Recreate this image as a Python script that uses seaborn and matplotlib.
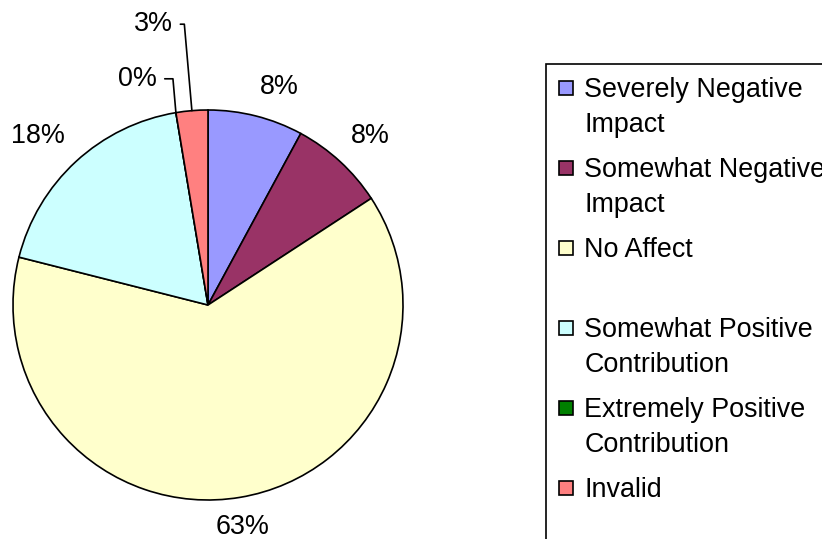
"""
Pie chart of survey answers (impact), Excel-like style, with a legend on the right.
"""
import numpy as np
import matplotlib
matplotlib.use("Agg")
import matplotlib.pyplot as plt
from matplotlib.patches import Patch, Rectangle
from matplotlib.legend_handler import HandlerPatch
import seaborn as sns

# data
categories = [
    "Severely Negative\nImpact",
    "Somewhat Negative\nImpact",
    "No Affect\n ",
    "Somewhat Positive\nContribution",
    "Extremely Positive\nContribution",
    "Invalid\n ",
]
counts = [3, 3, 24, 7, 0, 1]
colors = ["#9999FF", "#993366", "#FFFFCC", "#CCFFFF", "#008000", "#FF8080"]

FONT_PT = 19.4
LINESPACING = 1.43
LABEL_R = 1.085
# slices too small for a direct label get a leader line
LEADER_TEXT = {4: (-0.26, 1.16), 5: (-0.18, 1.44)}

sns.set_theme(style="white")
plt.rcParams["font.family"] = ["Liberation Sans", "DejaVu Sans"]
plt.rcParams["text.color"] = "black"

fig = plt.figure(figsize=(8.22, 5.39), dpi=100)
ax = fig.add_axes([13 / 822, 39 / 539, 390 / 822, 390 / 539])

wedges, _ = ax.pie(
    counts,
    colors=colors,
    startangle=90,
    counterclock=False,
    wedgeprops=dict(edgecolor="black", linewidth=1.2),
)
ax.set_xlim(-1, 1)
ax.set_ylim(-1, 1)
ax.set_aspect("equal")
ax.axis("off")

# percentage labels, anchored by the corner nearest to the pie (like Excel)
total = sum(counts)
cum = np.cumsum(counts)
for i, c in enumerate(counts):
    mid = (cum[i] - c / 2) / total
    theta = np.deg2rad(90 - 360 * mid)
    cx, cy = np.cos(theta), np.sin(theta)
    label = f"{100 * c / total:.0f}%"
    if i in LEADER_TEXT:
        ax.annotate(
            label, xy=(cx, cy), xytext=LEADER_TEXT[i], ha="right", va="center",
            fontsize=FONT_PT, color="black", annotation_clip=False,
            arrowprops=dict(arrowstyle="-", color="black", lw=1.2, relpos=(1, 0.5),
                            shrinkA=3, shrinkB=0,
                            connectionstyle="angle,angleA=0,angleB=95,rad=0"),
        )
    else:
        ha = "left" if cx > 0.2 else ("right" if cx < -0.2 else "center")
        va = "bottom" if cy > 0.2 else ("top" if cy < -0.2 else "center")
        ax.text(LABEL_R * cx, LABEL_R * cy, label, ha=ha, va=va,
                fontsize=FONT_PT, color="black", clip_on=False)


# legend: marker sits next to the first line of each two-line label
def first_line_patch(legend, orig_handle, xdescent, ydescent, width, height, fontsize):
    dist = 0.885 * fontsize * LINESPACING
    size = 0.5 * fontsize
    centre = 0.5 * dist + 0.465 * fontsize
    return Rectangle((-xdescent, centre - size / 2), width, size)


handles = [Patch(facecolor=col, edgecolor="black", linewidth=1.2) for col in colors]
leg = fig.legend(
    handles, categories,
    loc="upper left", bbox_to_anchor=(546 / 822, 1 - 64 / 539),
    bbox_transform=fig.transFigure, borderaxespad=0,
    fontsize=FONT_PT, frameon=True, fancybox=False, framealpha=1,
    edgecolor="black", borderpad=0.5, handlelength=0.52, handletextpad=0.4,
    labelspacing=0.72,
    handler_map={Patch: HandlerPatch(patch_func=first_line_patch)},
)
leg.get_frame().set_linewidth(1.2)
for t in leg.get_texts():
    t.set_linespacing(LINESPACING)
    t.set_color("black")

fig.savefig("out.png", dpi=100)
